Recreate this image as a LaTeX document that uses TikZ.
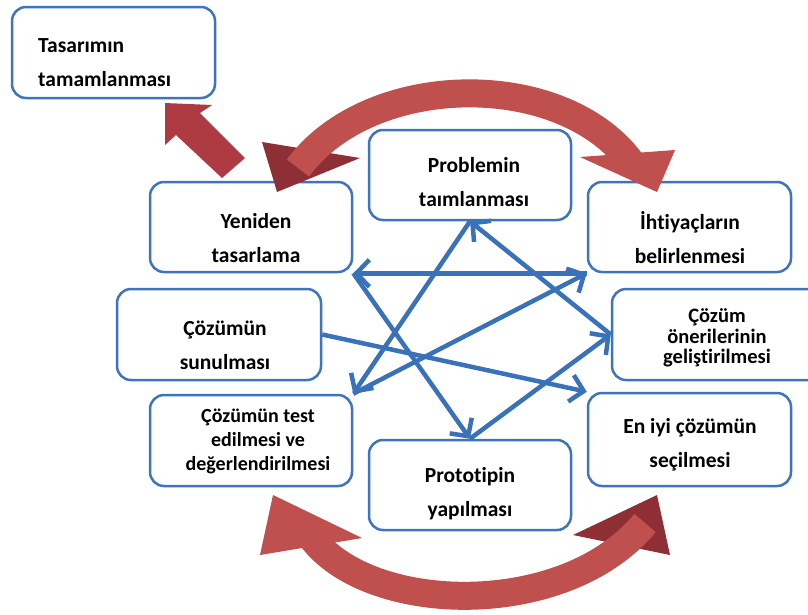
\documentclass[tikz,border=0pt]{standalone}
\usepackage{fontspec}
\setmainfont{Carlito}[Ligatures={NoCommon}]
\usetikzlibrary{arrows.meta}
\definecolor{boxblue}{HTML}{3E74BC}
\definecolor{arrblue}{HTML}{3A72B9}
\definecolor{redbody}{HTML}{C0504D}
\definecolor{reddark}{HTML}{8E2F36}
\definecolor{redarrow}{HTML}{AE3B42}
\begin{document}
\begin{tikzpicture}[x=1pt,y=-1pt,
  box/.style={draw=boxblue, line width=2.5pt, fill=white, rounded corners=14pt, rectangle, inner sep=0pt},
  txt/.style={font=\bfseries\fontsize{21.5}{34}\selectfont, align=center, text=black, inner sep=0pt},
  flow/.style={draw=arrblue, line width=4.5pt, -{Straight Barb[length=13pt,width=27pt]}},
  redline/.style={draw=redbody, line width=28pt}]
\clip (0,0) rectangle (808,614);
\fill[white] (0,0) rectangle (808,614);
% boxes
\node[box, minimum width=203pt, minimum height=91pt] (tasarim) at (113.5,52.5) {};
\node[box, minimum width=202pt, minimum height=90pt] (yeniden) at (251,227) {};
\node[box, minimum width=202pt, minimum height=90pt] (problem) at (470,175) {};
\node[box, minimum width=203pt, minimum height=90pt] (ihtiyac) at (689.5,227) {};
\node[box, minimum width=204pt, minimum height=91pt] (sunum) at (219,334.5) {};
\node[box, minimum width=218pt, minimum height=91pt] (oneri) at (721,334.5) {};
\node[box, minimum width=202pt, minimum height=91pt] (test) at (251,440.5) {};
\node[box, minimum width=202pt, minimum height=90pt] (proto) at (470,485) {};
\node[box, minimum width=203pt, minimum height=93pt] (eniyi) at (689.5,439.5) {};
% texts
\node[txt, anchor=west, align=left] (t-tasarim) at (38,63) {Tasarımın\\tamamlanması};
\node[txt] (t-yeniden) at (256,238) {Yeniden\\tasarlama};
\node[txt] (t-problem) at (474,182) {Problemin\\taımlanması};
\node[txt] (t-ihtiyac) at (690,238) {İhtiyaçların\\belirlenmesi};
\node[txt] (t-sunum) at (225,345) {Çözümün\\sunulması};
\node[txt, font=\bfseries\fontsize{20.5}{20.5}\selectfont] (t-oneri) at (717,338) {Çözüm\\önerilerinin\\geliştirilmesi};
\node[txt] (t-eniyi) at (690,445) {En iyi çözümün\\seçilmesi};
\node[txt] (t-proto) at (470,494) {Prototipin\\yapılması};
\node[txt, font=\bfseries\fontsize{20}{24}\selectfont] (t-test) at (258,441) {Çözümün test\\edilmesi ve\\değerlendirilmesi};
% blue flow arrows
\draw[flow] (ihtiyac.south west) -- (yeniden.south east);
\draw[flow] (yeniden.south east) -- (proto.north);
\draw[flow] (proto.north) -- (oneri.west);
\draw[flow] (oneri.west) -- (problem.south);
\draw[flow] (problem.south) -- (test.north east);
\draw[flow] (test.north east) -- (ihtiyac.south west);
\draw[flow] (sunum.east) -- (eniyi.north west);
% red block arrow to Tasarimin tamamlanmasi
\fill[redarrow] (165,103) -- (212,105) -- (200,113) -- (245,158) -- (222,178) -- (176,135) -- (165,145) -- cycle;
% top curved arrow
\fill[reddark] (262,142) -- (360,158) -- (277,192) -- cycle;
\fill[redbody] (580,157) -- (675,150) -- (657,192) -- cycle;
\draw[redline] (298,168) .. controls (370,70) and (565,68) .. (633,165);
% bottom curved arrow
\fill[redbody] (260,555) -- (362,538) -- (273,495) -- cycle;
\fill[reddark] (573,535) -- (670,555) -- (657,495) -- cycle;
\draw[redline] (312,538) .. controls (370,615) and (565,620) .. (645,523);
\end{tikzpicture}
\end{document}
